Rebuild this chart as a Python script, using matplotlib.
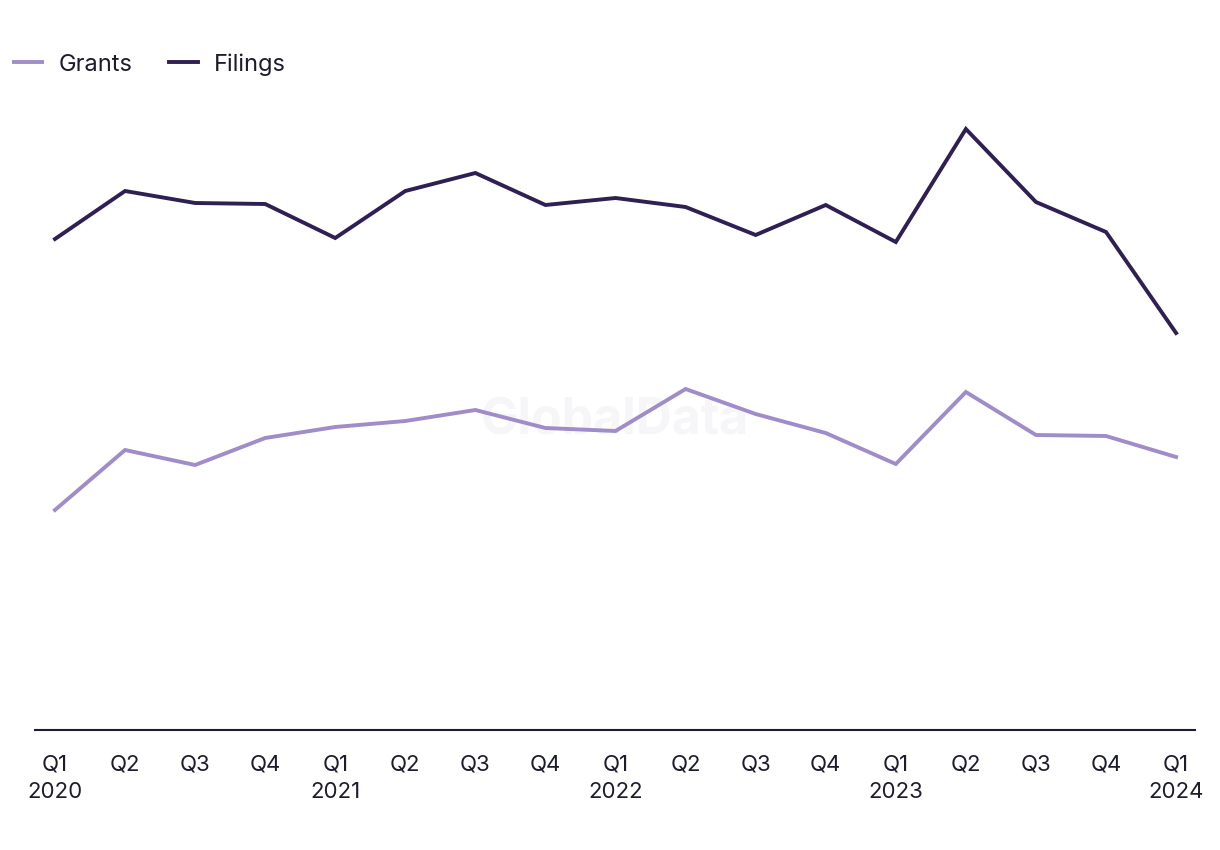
import numpy as np
import matplotlib.pyplot as plt

plt.rcParams['font.family'] = ['Inter', 'DejaVu Sans']

quarters = ['Q1\n2020', 'Q2', 'Q3', 'Q4', 'Q1\n2021', 'Q2', 'Q3', 'Q4',
            'Q1\n2022', 'Q2', 'Q3', 'Q4', 'Q1\n2023', 'Q2', 'Q3', 'Q4', 'Q1\n2024']
filings = [491, 539, 527, 526, 492, 539, 557, 525, 532, 523, 495, 525, 488, 601, 528, 498, 397]
grants = [220, 280, 265, 292, 303, 309, 320, 302, 299, 341, 316, 297, 266, 338, 295, 294, 273]

grants_col = '#a08cc8'
filings_col = '#2f1f52'
text_col = '#1c1c2c'

fig = plt.figure(figsize=(12.2, 8.5), dpi=100)
ax = fig.add_axes([35 / 1220, 120 / 850, 1160 / 1220, 630 / 850])

x = np.arange(len(quarters))
ax.plot(x, grants, color=grants_col, lw=2.8, label='Grants', solid_joinstyle='miter')
ax.plot(x, filings, color=filings_col, lw=2.8, label='Filings', solid_joinstyle='miter')

ax.text(0.5, 0.49, 'GlobalData', transform=ax.transAxes, ha='center', va='center',
        fontsize=36, fontweight='bold', color='#f6f6f8', zorder=0)

ax.set_xlim(-0.285, 16.27)
ax.set_ylim(0, 630)
ax.set_xticks(x)
ax.set_xticklabels(quarters, fontsize=16, color=text_col, linespacing=1.45)
ax.tick_params(axis='x', length=0, pad=18)
ax.set_yticks([])
for s in ['top', 'right', 'left']:
    ax.spines[s].set_visible(False)
ax.spines['bottom'].set_color(text_col)
ax.spines['bottom'].set_linewidth(1.5)

leg = fig.legend(loc='upper left', bbox_to_anchor=(-0.002, 0.957), ncol=2, frameon=False,
                 fontsize=17, handlelength=1.2, handletextpad=0.7, columnspacing=1.55,
                 borderaxespad=0.3)
for t in leg.get_texts():
    t.set_color(text_col)

fig.savefig('out.png', dpi=100)
